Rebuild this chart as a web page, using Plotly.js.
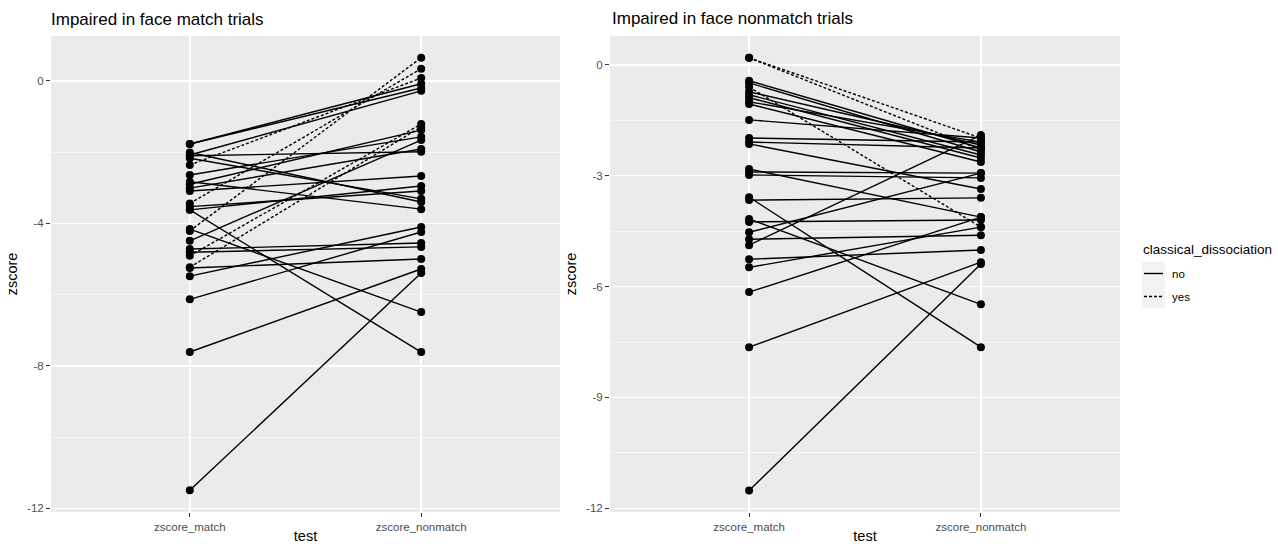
<!DOCTYPE html>
<html>
<head>
<meta charset="utf-8">
<script src="https://cdn.plot.ly/plotly-3.0.1.min.js"></script>
<style>
  html, body { margin: 0; padding: 0; background: #ffffff; }
  #chart { width: 1278px; height: 544px; }
</style>
</head>
<body>
<div id="chart"></div>
<script>
// Test categories on the x axis
const tests = ["zscore_match", "zscore_nonmatch"];

// Panel 1: participants impaired in face match trials
const leftMatch    = [-1.77, -1.77, -2.08, -2.36, -3.44, -4.21, -4.91, -5.23, -2.64, -2.10, -3.01, -4.49, -2.01, -2.83,
                      -3.09, -3.62, -3.62, -4.16, -4.72, -4.81, -5.25, -5.48, -6.13, -7.61, -11.49, -2.90, -2.17, -3.53];
const leftNonmatch = [-0.08, -0.20, -0.28, 0.08, 0.34, 0.65, -1.21, -1.29, -1.57, -1.99, -1.91, -1.66, -3.40, -3.60,
                      -2.67, -2.95, -7.61, -6.49, -4.55, -4.66, -5.00, -4.10, -4.24, -5.28, -5.39, -1.38, -3.31, -3.09];
const leftDissoc   = ["no", "no", "no", "yes", "yes", "yes", "yes", "yes", "no", "no", "no", "no", "no", "no",
                      "no", "no", "no", "no", "no", "no", "no", "no", "no", "no", "no", "no", "no", "no"];

// Panel 2: participants impaired in face nonmatch trials
const rightMatch    = [0.19, 0.19, -0.60, -0.43, -0.49, -0.73, -0.81, -0.89, -1.00, -1.06, -1.49, -1.98, -2.14, -2.82,
                       -2.90, -2.98, -3.58, -3.66, -4.17, -4.25, -4.53, -4.72, -4.88, -5.26, -5.48, -6.15, -7.64, -11.52, -2.09];
const rightNonmatch = [-1.98, -2.30, -4.39, -2.25, -2.36, -2.17, -2.44, -2.52, -2.09, -2.63, -1.98, -2.09, -3.36, -4.12,
                       -2.93, -3.06, -7.64, -3.60, -6.48, -4.20, -2.93, -4.61, -1.90, -5.01, -4.39, -4.12, -5.34, -5.39, -2.25];
const rightDissoc   = ["yes", "yes", "yes", "no", "no", "no", "no", "no", "no", "no", "no", "no", "no", "no",
                       "no", "no", "no", "no", "no", "no", "no", "no", "no", "no", "no", "no", "no", "no", "no"];

// Axis ticks
const leftYTicks = [0, -4, -8, -12];
const leftYMinor = [2, -2, -6, -10];
const rightYTicks = [0, -3, -6, -9, -12];
const rightYMinor = [-1.5, -4.5, -7.5, -10.5];
const dissocLevels = ["no", "yes"];
const panelTitles = ["Impaired in face match trials", "Impaired in face nonmatch trials"];

const W = 1278, H = 544;
const px = v => v / W;
const py = v => 1 - v / H;

const dashFor = { no: "solid", yes: "3px,2px" };

// One trace per linetype per panel; each participant is a segment, broken by a null
function segments(match, nonmatch, dissoc, level, xa, ya) {
  const x = [], y = [];
  for (let i = 0; i < match.length; i++) {
    if (dissoc[i] !== level) continue;
    x.push(tests[0], tests[1], tests[1]);
    y.push(match[i], nonmatch[i], null);
  }
  return {
    type: "scatter", mode: "lines+markers", x, y, xaxis: xa, yaxis: ya,
    connectgaps: false, showlegend: false, hoverinfo: "skip",
    line: { color: "#000000", width: 1.4, dash: dashFor[level] },
    marker: { color: "#000000", size: 8 }
  };
}

const traces = [];
dissocLevels.forEach(l => traces.push(segments(leftMatch, leftNonmatch, leftDissoc, l, "x", "y")));
dissocLevels.forEach(l => traces.push(segments(rightMatch, rightNonmatch, rightDissoc, l, "x2", "y2")));

const fontFam = "Liberation Sans, Arial, sans-serif";
const tickFont = { family: fontFam, size: 11.5, color: "#4d4d4d" };
const axTitleFont = { family: fontFam, size: 14.5, color: "#000000" };
const legendTitleFont = { family: fontFam, size: 13.5, color: "#000000" };
const titleFont = { family: fontFam, size: 17, color: "#000000" };

function xAxis(domain, anchor) {
  return {
    domain, anchor, type: "category", range: [-0.6, 1.6],
    categoryorder: "array", categoryarray: tests,
    showgrid: true, gridcolor: "#ffffff", gridwidth: 1.4,
    zeroline: false, showline: false,
    ticks: "outside", ticklen: 4, tickcolor: "#333333", tickwidth: 1.1,
    tickfont: tickFont, fixedrange: true,
    title: { text: "test", font: axTitleFont, standoff: 3 }
  };
}
function yAxis(domain, anchor, ticks, minor, range) {
  return {
    domain, anchor, range,
    tickmode: "array", tickvals: ticks, ticktext: ticks.map(v => String(v)),
    showgrid: true, gridcolor: "#ffffff", gridwidth: 1.4,
    minor: { tickmode: "array", tickvals: minor, showgrid: true, gridcolor: "#ffffff", gridwidth: 0.6, ticks: "" },
    zeroline: false, showline: false,
    ticks: "outside", ticklen: 4, tickcolor: "#333333", tickwidth: 1.1,
    tickfont: tickFont, fixedrange: true,
    title: { text: "zscore", font: axTitleFont, standoff: 6 }
  };
}

const yDomain = [py(512), py(36)];

// Legend keys drawn as ggplot-style grey boxes
const keyTop = [262, 285];
const shapes = [];
const annotations = [
  { text: panelTitles[1], xref: "paper", yref: "paper", x: px(610), y: py(19), xanchor: "left", yanchor: "middle",
    showarrow: false, font: titleFont },
  { text: "classical_dissociation", xref: "paper", yref: "paper", x: px(1141), y: py(249), xanchor: "left", yanchor: "middle",
    showarrow: false, font: legendTitleFont }
];
dissocLevels.forEach((lvl, i) => {
  const t = keyTop[i];
  shapes.push({ type: "rect", xref: "paper", yref: "paper", x0: px(1142), x1: px(1165), y0: py(t), y1: py(t + 23),
                fillcolor: "#f2f2f2", line: { width: 0 } });
  shapes.push({ type: "line", xref: "paper", yref: "paper", x0: px(1144), x1: px(1163), y0: py(t + 11.5), y1: py(t + 11.5),
                line: { color: "#000000", width: 1.4, dash: dashFor[lvl] } });
  annotations.push({ text: lvl, xref: "paper", yref: "paper", x: px(1170), y: py(t + 11.5), xanchor: "left", yanchor: "middle",
                     showarrow: false, font: { family: fontFam, size: 11.5, color: "#000000" } });
});

const layout = {
  width: W, height: H,
  margin: { l: 0, r: 0, t: 0, b: 0 },
  paper_bgcolor: "#ffffff", plot_bgcolor: "#ebebeb",
  showlegend: false,
  title: { text: panelTitles[0], x: px(51), xref: "paper", xanchor: "left", y: py(19), yref: "paper", yanchor: "middle",
           font: titleFont },
  xaxis: xAxis([px(51), px(560)], "y"),
  yaxis: yAxis(yDomain, "x", leftYTicks, leftYMinor, [-12.1, 1.26]),
  xaxis2: xAxis([px(610), px(1120)], "y2"),
  yaxis2: yAxis(yDomain, "x2", rightYTicks, rightYMinor, [-12.1, 0.78]),
  shapes, annotations
};

Plotly.newPlot("chart", traces, layout, { displayModeBar: false, staticPlot: true });
</script>
</body>
</html>
